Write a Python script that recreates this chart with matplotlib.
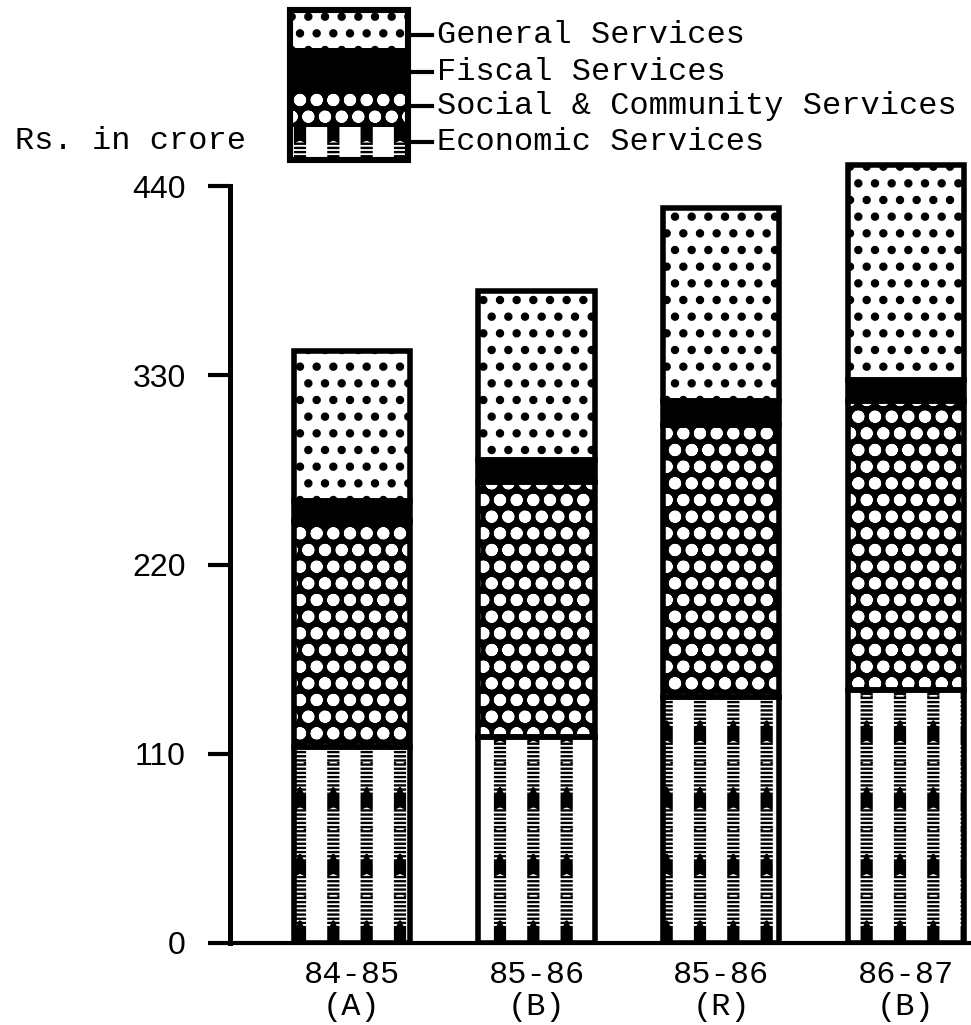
import matplotlib
matplotlib.use("Agg")
import matplotlib.pyplot as plt
from matplotlib.lines import Line2D

# data (Rs. in crore)
years = ["84-85\n(A)", "85-86\n(B)", "85-86\n(R)", "86-87\n(B)"]
economic = [114, 120, 143, 147]
social = [131, 148, 158, 168]
fiscal = [12, 13, 14, 12]
general = [87, 98, 112, 125]
yticks = [0, 110, 220, 330, 440]
legend_labels = ["General Services", "Fiscal Services",
                 "Social & Community Services", "Economic Services"]

W, H, DPI = 971, 1025, 200
FONT = "Liberation Mono"

# layout in pixels of the original
y0_px, y440_px = 943, 186
ppu = (y0_px - y440_px) / 440.0
YMAX = 465
top_px = y0_px - YMAX * ppu


def fx(px):
    return px / W


def fy(py):
    return 1 - py / H


def layer(ax, x, h, bottom, width, face, hcolor, hatch, hlw, z):
    with plt.rc_context({"hatch.linewidth": hlw, "hatch.color": hcolor}):
        bars = ax.bar(x, h, width, bottom=bottom, color=face, edgecolor=hcolor,
                      hatch=hatch, linewidth=0, zorder=z)
    for b in bars:
        if hasattr(b, "set_hatch_linewidth"):
            b.set_hatch_linewidth(hlw)
    return bars


def fill_segment(ax, x, h, bottom, width, kind, outline_lw):
    if kind == "economic":
        # columns of short dashes with the odd solid block
        layer(ax, x, h, bottom, width, "white", "black", "-" * 8, 0.85, 1)
        layer(ax, x, h, bottom, width, "none", "black", "*", 1.0, 1.5)
        layer(ax, x, h, bottom, width, "none", "white", "|", 7.6, 2)
    elif kind == "social":
        layer(ax, x, h, bottom, width, "black", "white", "oo", 2.0, 1)
    elif kind == "fiscal":
        layer(ax, x, h, bottom, width, "black", "black", None, 0.5, 1)
    else:
        layer(ax, x, h, bottom, width, "white", "black", "..", 1.8, 1)
    ax.bar(x, h, width, bottom=bottom, fill=False, edgecolor="black",
           linewidth=outline_lw, zorder=4)


fig = plt.figure(figsize=(W / DPI, H / DPI), dpi=DPI)
fig.patch.set_facecolor("white")

ax = fig.add_axes([fx(230), fy(y0_px), fx(971) - fx(230), fy(top_px) - fy(y0_px)])
ax.set_facecolor("none")

x = list(range(len(years)))
width = 0.63
bottom = [0] * len(x)
for kind, vals in [("economic", economic), ("social", social),
                   ("fiscal", fiscal), ("general", general)]:
    fill_segment(ax, x, vals, bottom, width, kind, 2.0)
    bottom = [b + v for b, v in zip(bottom, vals)]

ax.set_xlim(-0.66, 3.352)
ax.set_ylim(0, YMAX)
for s in ["top", "right"]:
    ax.spines[s].set_visible(False)
ax.spines["left"].set_bounds(0, 440)
ax.spines["left"].set_linewidth(1.8)
ax.spines["bottom"].set_linewidth(1.5)
ax.spines["bottom"].set_zorder(5)

ax.set_yticks(yticks)
ax.set_yticklabels([str(t) for t in yticks], fontfamily="Liberation Sans",
                   fontsize=11.5)
ax.tick_params(axis="y", length=7.9, width=1.5, pad=8)
ax.set_xticks(x)
ax.set_xticklabels(years, fontfamily=FONT, fontsize=11.5, linespacing=1.1)
ax.tick_params(axis="x", length=0, pad=6)

fig.text(fx(15), fy(141), "Rs. in crore", fontfamily=FONT, fontsize=11.5,
         ha="left", va="center")

# legend box
seg_px = [33, 37, 42, 38]  # economic, social, fiscal, general (bottom to top)
lax = fig.add_axes([fx(290), fy(160), fx(408) - fx(290), fy(10) - fy(160)])
lax.set_xlim(0, 1)
lax.set_ylim(0, sum(seg_px))
lax.axis("off")
b = 0
for kind, hgt in zip(["economic", "social", "fiscal", "general"], seg_px):
    fill_segment(lax, [0.5], [hgt], [b], 1.0, kind, 0)
    b += hgt
lax.bar([0.5], [sum(seg_px)], 1.0, fill=False, edgecolor="black",
        linewidth=2.2, zorder=5, clip_on=False)

dash_y = [35, 72, 106, 142]
text_y = [35, 72, 106, 142]
for lab, dy, ty in zip(legend_labels, dash_y, text_y):
    fig.add_artist(Line2D([fx(408), fx(432)], [fy(dy), fy(dy)], color="black",
                          linewidth=1.5))
    fig.text(fx(437), fy(ty), lab, fontfamily=FONT, fontsize=11.5,
             ha="left", va="center")

fig.savefig("out.png", dpi=DPI, facecolor="white")
